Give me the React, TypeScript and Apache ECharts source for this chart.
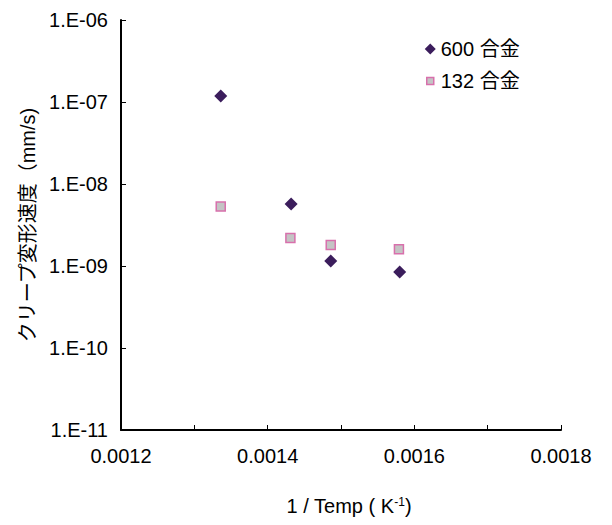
import React, { useEffect, useRef } from "react";
import * as echarts from "echarts";

const xAlloy600 = [0.001336, 0.001432, 0.001486, 0.00158];
const yAlloy600 = [1.18e-7, 5.7e-9, 1.15e-9, 8.45e-10];
const xAlloy132 = [0.001336, 0.001431, 0.001486, 0.001579];
const yAlloy132 = [5.3e-9, 2.2e-9, 1.8e-9, 1.6e-9];
const seriesNames = ["600 合金", "132 合金"];
const xTitle = "1 / Temp ( K{sup|-1})";
const yTitle = "クリープ変形速度（mm/s)";

const FONT = "'Liberation Sans', Arial, 'Noto Sans CJK JP', sans-serif";

export default function App() {
  const ref = useRef<HTMLDivElement>(null);
  useEffect(() => {
    if (!ref.current) return;
    const chart = echarts.init(ref.current, null, { renderer: "svg" });
    const pts = (xs: number[], ys: number[]) => xs.map((x, i) => [x, ys[i]]);
    chart.setOption({
      animation: false,
      backgroundColor: "#ffffff",
      textStyle: { fontFamily: FONT },
      grid: { left: 121, right: 51, top: 20, bottom: 95, containLabel: false },
      legend: {
        orient: "vertical",
        left: 419,
        top: 34,
        itemWidth: 11,
        itemHeight: 11,
        itemGap: 12,
        textStyle: { fontSize: 20, color: "#000", fontFamily: FONT },
        data: [
          { name: seriesNames[0], icon: "diamond", itemStyle: { opacity: 1 } },
          {
            name: seriesNames[1],
            icon: "path://M0,0L0.01,0M11,11L10.99,11M2,2L9,2L9,9L2,9Z",
            itemStyle: { opacity: 1, borderWidth: 1.5 },
          },
        ],
      },
      xAxis: {
        type: "value",
        min: 0.0012,
        max: 0.0018,
        interval: 0.0001,
        name: xTitle,
        nameLocation: "middle",
        nameGap: 66,
        nameTextStyle: {
          fontSize: 20,
          color: "#000",
          padding: [0, 0, 0, 16],
          rich: { sup: { fontSize: 12, verticalAlign: "top", lineHeight: 20, padding: [0, 0, 8, 0] } },
        },
        axisLine: { lineStyle: { color: "#000", width: 2 } },
        axisTick: { inside: true, length: 5, lineStyle: { color: "#000" } },
        splitLine: { show: false },
        axisLabel: {
          fontSize: 20,
          color: "#000",
          margin: 16,
          showMinLabel: true,
          showMaxLabel: true,
          formatter: (v: number) => {
            const k = Math.round(v * 10000);
            return k % 2 === 0 ? (k / 10000).toFixed(4) : "";
          },
        },
      },
      yAxis: {
        type: "log",
        logBase: 10,
        min: 1e-11,
        max: 1e-6,
        name: yTitle,
        nameLocation: "middle",
        nameGap: 83,
        nameTextStyle: { fontSize: 20, color: "#000" },
        axisLine: { show: true, lineStyle: { color: "#000", width: 2 } },
        axisTick: { show: true, inside: true, length: 5, lineStyle: { color: "#000" } },
        splitLine: { show: false },
        minorTick: { show: false },
        axisLabel: {
          fontSize: 20,
          color: "#000",
          margin: 13,
          formatter: (v: number) => {
            const e = Math.round(Math.log10(v));
            const a = Math.abs(e);
            return "1.E" + (e < 0 ? "-" : "+") + (a < 10 ? "0" + a : "" + a);
          },
        },
      },
      series: [
        {
          name: seriesNames[0],
          type: "scatter",
          symbol: "diamond",
          symbolSize: 13,
          itemStyle: { color: "#3b1d5c", opacity: 1 },
          data: pts(xAlloy600, yAlloy600),
        },
        {
          name: seriesNames[1],
          type: "scatter",
          symbol: "rect",
          symbolSize: 9,
          itemStyle: { color: "#c4c4c4", borderColor: "#d870ac", borderWidth: 1.5, opacity: 1 },
          data: pts(xAlloy132, yAlloy132),
        },
      ],
    });
    return () => chart.dispose();
  }, []);
  return (
    <div
      ref={ref}
      style={{ position: "fixed", left: 0, top: 0, width: 612, height: 525, background: "#fff" }}
    />
  );
}
